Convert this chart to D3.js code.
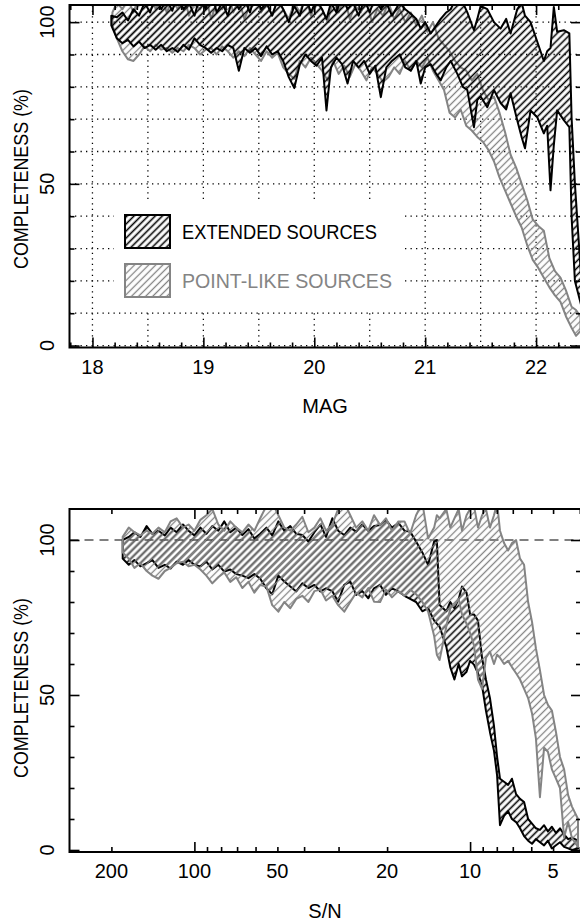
<!DOCTYPE html>
<html>
<head>
  <meta charset="utf-8">
  <title>Completeness</title>
  <script src="https://cdnjs.cloudflare.com/ajax/libs/d3/7.8.5/d3.min.js"></script>
  <style>
    body { margin: 0; background: #fff; }
    svg text { font-family: "Liberation Sans", Arial, Helvetica, sans-serif; }
  </style>
</head>
<body>
<script>
  // ---- top panel: completeness vs magnitude ----
  var magExt = [18.17,18.22,18.27,18.32,18.37,18.42,18.47,18.52,18.57,18.62,18.67,18.72,18.77,18.82,18.87,18.92,18.97,19.02,19.07,19.12,19.17,19.22,19.27,19.32,19.37,19.42,19.47,19.52,19.57,19.62,19.67,19.72,19.77,19.82,19.87,19.92,19.97,20.02,20.07,20.11,20.15,20.20,20.25,20.30,20.35,20.40,20.45,20.50,20.55,20.60,20.65,20.70,20.77,20.82,20.87,20.92,20.96,21.00,21.05,21.10,21.14,21.19,21.23,21.29,21.34,21.38,21.44,21.47,21.50,21.56,21.62,21.68,21.73,21.77,21.83,21.87,21.90,21.95,22.01,22.07,22.10,22.13,22.16,22.19,22.25,22.30,22.32,22.35,22.38,22.41];
  var extLoTop = [99,95,93.5,94.5,92.5,94,92,93,91.5,93,91,92,90.8,93,91.5,95,93,92,90.5,92,91,93,92,85,92,90.5,92,89.5,92.5,90,91,88,83,79.6,87,90,88,86.5,89,72.7,86,89,87,81,88,86,88,84,86.5,76.8,86,88,90,86,85,88,81,86,87,84,82,86,88,84,80,79,67.5,76,77,73.7,79,75,73,78,69.7,64.4,61,72.7,70.6,65.6,68,48,62,72.7,69.7,67.5,40,20,16,12];
  var extHiTop = [102,101.5,103,100.5,104,102,106,103,108,104,107,103.5,109,104,106,102,108,104,110,103,106,102,108,104,107,103,109,104,106,102,107,104,100,105,102,108,103,107,104,101,106,103,108,104,106,102,107,103,108,104,106,102,106,104,102.6,101,98,100,96.5,99,101,103,104,108,106,103,97.5,101,105,104,100,98,101,96.5,104,106,102,100,94,88,91,92,104.7,97,97.5,96.5,70.6,50,34.6,19];

  var magPt = [18.18,18.22,18.27,18.32,18.37,18.42,18.47,18.52,18.57,18.62,18.67,18.72,18.77,18.82,18.87,18.92,18.97,19.02,19.07,19.12,19.17,19.22,19.27,19.32,19.37,19.42,19.47,19.52,19.57,19.62,19.67,19.72,19.77,19.82,19.87,19.92,19.97,20.02,20.07,20.12,20.17,20.22,20.27,20.32,20.37,20.42,20.47,20.52,20.57,20.62,20.67,20.72,20.77,20.82,20.87,20.92,20.97,21.02,21.07,21.12,21.17,21.22,21.27,21.32,21.37,21.42,21.47,21.52,21.57,21.62,21.67,21.72,21.77,21.82,21.87,21.92,21.97,22.02,22.07,22.12,22.17,22.22,22.27,22.32,22.36,22.40];
  var ptLoTop = [99,95,91,88.5,88,90,92.5,91,93,91.5,92,90.5,92,91,93,92,90,91.5,92,90,92.5,91,89,91,89.5,92,90,88,91,89,90.5,86,84,82.5,88,86,89,87,85,82,88,84,86.5,83,87,85,82,86,84,81.5,83,86,84,88,85,88,86,89,85,82,79,72,70.5,73,68,66.5,64.5,63,60.5,57,52,48,44,40,36.5,31,26.5,24,21,18,15.5,13.5,9,5.5,3,4.5];
  var ptHiTop = [103,106,104,107,103,108,105,109,104,108,103,107,104,109,102,106,104,108,101,106,104,109,103,107,101,105,108,103,106,102,107,104,101,106,103,108,102,106,104,100,107,103,108,101,105,103,107,100,104,102,106,101,104,100,103,99,102,97,100,95,93,91,88,86,85,82,84,79,76,77,72,66,59,55,50,45,39,37,35.5,27,23,21,17,12,11,9];

  // ---- bottom panel: completeness vs S/N ----
  var snBins = [182,173,165,157,149,142,135,128,122,116,110,105,100,95.1,90.5,86.1,81.9,77.9,74.1,70.5,67.0,63.7,60.6,57.7,54.8,52.2,49.6,47.2,44.9,42.7,40.6,38.6,36.7,34.9,33.3,31.6,30.1,28.6,27.2,25.9,24.6,23.4,22.3,21.2,20.2,19.2,18.2,17.3,16.5,15.7,14.9,14.2,13.5,13.2,12.9,12.2,11.8,11.4,11.0,10.7,10.3,10.0,9.68,9.36,9.05,8.76,8.47,8.19,7.98,7.79,7.53,7.28,7.05,6.81,6.59,6.37,6.16,5.96,5.77,5.58,5.39,5.22,5.05,4.88,4.72,4.56,4.41,4.27,4.06];
  var extLoBot = [94,92,93.5,91.5,92.5,93.5,91,92,90.8,93,92,93.5,92,91.5,93,90.5,92,89.8,90.5,89,88.5,87.7,89,87.5,84.4,82.5,88.5,86.6,85,83.4,86,84.5,85.5,83.4,84.4,83.5,80.1,85.5,86.6,82.3,83.5,81.2,84.4,85.5,82.3,84.4,83.4,82,81,80,77,78,74,73,72,65.6,59,55,60,56,57.5,61,59.8,57,53,45,38,32,24,8,11,12.5,10,9,7,4.5,3,2,3.5,2.5,1.5,3,0.5,1.5,2.5,1,0.5,0,0.5];
  var extHiBot = [100,101,102.5,101,104.5,102,103,101.5,104,102.5,105,103,101.5,104,102,104.5,103,106,102.5,104,101.6,103.5,100.5,102,104,101.5,106,103,104.5,102,101.6,99.5,102.5,105,101,107,103,101.6,104,102.7,105,103,104.5,104.8,106.5,104,105.5,103,102.7,99.5,96,92,99.5,100,79,77,80,78,81,85,83,76,76,74,62,55,49,40,30,23,22,21,23,18,16.5,15.5,10,8.5,7,6.5,8,6,7.5,5.5,7,5,3.5,4,3];
  var ptLoBot = [96,94,91,92.5,90,88.5,87.5,90,91,92.5,93,91.5,92,90.5,88.5,86,88,89.5,86.5,88,84.5,86.5,83,85.5,85,79,76.9,80,78,81,82,80,83.5,84,80.5,82,79,76.9,80,83,81.5,84.5,80.1,80,84,81.5,83.5,82,84,82.5,80,76.9,69,63,61.3,72,78,79,81,76,73,70,66,55,52,62,64,60,63,62,60,61,59,57,55,52,49,44,36,17,33,31.7,26,23,20,4,9,3.8,1];
  var ptHiBot = [101,104,102.5,101.5,103,102,104,102.5,106,107,104,105,103,106.5,108,110,105,103,106,104,102.5,105,103,107,111,112,108,104,103,105,107.5,102.5,104,107,103,105,110,112,108,104,106,103,108,104.8,107,103,106,106,102,108,112,100.5,104,108,107,110,104,107,110,103,108,110,111,104,108,110,104,108,112,103,99,96.6,99,100,94,92,80,73.5,65,58,50,46.8,45,38,30,26,17.7,14,10];

  // ---- ticks ----
  var magLabels = [18, 19, 20, 21, 22];
  var magMinor = [17.8,18.2,18.4,18.6,18.8,19.2,19.4,19.6,19.8,20.2,20.4,20.6,20.8,21.2,21.4,21.6,21.8,22.2,22.4];
  var magGrid = [18, 18.5, 19, 19.5, 20, 20.5, 21, 21.5, 22];
  var pctLabels = [0, 50, 100];
  var pctMinor = [10, 20, 30, 40, 60, 70, 80, 90];
  var pctGrid = [0, 10, 20, 30, 40, 50, 60, 70, 80, 90, 100];
  var snLabels = [200, 100, 50, 20, 10, 5];
  var snMajor = [100, 10];
  var snMinor = [200, 90, 80, 70, 60, 50, 40, 30, 20, 9, 8, 7, 6, 5, 4];

  var GRAY = "#848484";
  var L = 69.5, R = 581;
  var svg = d3.select("body").append("svg")
    .attr("width", 580).attr("height", 921)
    .style("display", "block");

  var defs = svg.append("defs");
  function hatch(id, color, w) {
    var p = defs.append("pattern").attr("id", id)
      .attr("patternUnits", "userSpaceOnUse")
      .attr("width", 5).attr("height", 5)
      .attr("patternTransform", "rotate(45)");
    p.append("line").attr("x1", 2.5).attr("y1", -1).attr("x2", 2.5).attr("y2", 6)
      .attr("stroke", color).attr("stroke-width", w);
  }
  hatch("hatchExt", "#000", 1.6);
  hatch("hatchPt", GRAY, 1.3);

  var xMag = d3.scaleLinear().domain([17.793, 22.405]).range([L, R]);
  var yTop = d3.scaleLinear().domain([-0.6, 105.3]).range([347.5, 5]);
  var xSN = d3.scaleLog().domain([283.8, 3.96]).range([L, R]);
  var yBot = d3.scaleLinear().domain([-0.65, 110]).range([852, 509]);

  function rows(xs, lo, hi) {
    return xs.map(function (v, i) { return { x: v, lo: lo[i], hi: hi[i] }; });
  }

  function band(g, data, x, y, color, pat, sw) {
    var area = d3.area()
      .x(function (d) { return x(d.x); })
      .y0(function (d) { return y(d.lo); })
      .y1(function (d) { return y(d.hi); });
    g.append("path").datum(data)
      .attr("d", area)
      .attr("fill", "url(#" + pat + ")")
      .attr("stroke", color)
      .attr("stroke-width", sw)
      .attr("stroke-linejoin", "round");
  }

  function ticks(g, axis, tr) {
    var a = g.append("g").attr("transform", tr).call(axis);
    a.select(".domain").remove();
    a.selectAll("line").attr("stroke", "#000").attr("stroke-width", 1.6);
  }

  function frameAxes(x, y, t, b, xMajor, xMinor) {
    [[pctLabels, 10], [pctMinor, 5]].forEach(function (s) {
      ticks(svg, d3.axisLeft(y).tickValues(s[0]).tickSize(-s[1]).tickFormat(""), "translate(" + L + ",0)");
      ticks(svg, d3.axisRight(y).tickValues(s[0]).tickSize(-s[1]).tickFormat(""), "translate(" + R + ",0)");
    });
    [[xMajor, 10], [xMinor, 5]].forEach(function (s) {
      ticks(svg, d3.axisBottom(x).tickValues(s[0]).tickSize(-s[1]).tickFormat(""), "translate(0," + b + ")");
      ticks(svg, d3.axisTop(x).tickValues(s[0]).tickSize(-s[1]).tickFormat(""), "translate(0," + t + ")");
    });
    svg.append("rect").attr("x", L).attr("y", t).attr("width", R - L).attr("height", b - t)
      .attr("fill", "none").attr("stroke", "#000").attr("stroke-width", 2);

    svg.append("g").selectAll("text").data(pctLabels).enter().append("text")
      .attr("transform", function (d) { return "translate(54," + y(d) + ") rotate(-90)"; })
      .attr("text-anchor", "middle").attr("font-size", 20).text(function (d) { return d; });
  }

  function clip(id, t, b) {
    defs.append("clipPath").attr("id", id).append("rect")
      .attr("x", L).attr("y", t).attr("width", R - L).attr("height", b - t);
    return svg.append("g").attr("clip-path", "url(#" + id + ")");
  }

  function yTitle(cy) {
    svg.append("text").attr("transform", "translate(28," + cy + ") rotate(-90)")
      .attr("text-anchor", "middle").attr("font-size", 20)
      .attr("textLength", 180).attr("lengthAdjust", "spacingAndGlyphs")
      .text("COMPLETENESS (%)");
  }

  // ===== top panel =====
  var gTop = clip("clipTop", 5, 347.5);
  var grid = gTop.append("g").attr("stroke", "#000").attr("stroke-width", 1.3)
    .attr("stroke-dasharray", "1.3,4.2");
  grid.selectAll("line.v").data(magGrid).enter().append("line")
    .attr("x1", function (d) { return xMag(d); }).attr("x2", function (d) { return xMag(d); })
    .attr("y1", 347.5).attr("y2", 5);
  grid.selectAll("line.h").data(pctGrid).enter().append("line")
    .attr("x1", L).attr("x2", R)
    .attr("y1", function (d) { return yTop(d); }).attr("y2", function (d) { return yTop(d); });

  band(gTop, rows(magPt, ptLoTop, ptHiTop), xMag, yTop, GRAY, "hatchPt", 2);
  band(gTop, rows(magExt, extLoTop, extHiTop), xMag, yTop, "#000", "hatchExt", 2);

  // legend
  var leg = svg.append("g");
  leg.append("rect").attr("x", 114).attr("y", 199).attr("width", 289).attr("height", 110).attr("fill", "#fff");
  leg.append("rect").attr("x", 125).attr("y", 215).attr("width", 45).attr("height", 33)
    .attr("fill", "url(#hatchExt)").attr("stroke", "#000").attr("stroke-width", 2);
  leg.append("rect").attr("x", 125).attr("y", 264).attr("width", 45).attr("height", 33)
    .attr("fill", "url(#hatchPt)").attr("stroke", GRAY).attr("stroke-width", 2);
  leg.append("text").attr("x", 182).attr("y", 239).attr("font-size", 20)
    .attr("textLength", 195).attr("lengthAdjust", "spacingAndGlyphs").text("EXTENDED SOURCES");
  leg.append("text").attr("x", 182).attr("y", 288).attr("font-size", 20).attr("fill", GRAY)
    .attr("textLength", 210).attr("lengthAdjust", "spacingAndGlyphs").text("POINT-LIKE SOURCES");

  frameAxes(xMag, yTop, 5, 347.5, magLabels, magMinor);
  svg.append("g").selectAll("text").data(magLabels).enter().append("text")
    .attr("x", function (d) { return xMag(d); }).attr("y", 374)
    .attr("text-anchor", "middle").attr("font-size", 20).text(function (d) { return d; });
  svg.append("text").attr("x", 325).attr("y", 413).attr("text-anchor", "middle")
    .attr("font-size", 20).text("MAG");
  yTitle(179);

  // ===== bottom panel =====
  var gBot = clip("clipBot", 509, 852);
  gBot.append("line").attr("x1", L).attr("x2", R)
    .attr("y1", yBot(100)).attr("y2", yBot(100))
    .attr("stroke", "#000").attr("stroke-width", 1.2).attr("stroke-dasharray", "9,6");
  band(gBot, rows(snBins, extLoBot, extHiBot), xSN, yBot, "#000", "hatchExt", 2);
  band(gBot, rows(snBins, ptLoBot, ptHiBot), xSN, yBot, GRAY, "hatchPt", 2);

  frameAxes(xSN, yBot, 509, 852, snMajor, snMinor);
  svg.append("g").selectAll("text").data(snLabels).enter().append("text")
    .attr("x", function (d) { return xSN(d); }).attr("y", 878)
    .attr("text-anchor", "middle").attr("font-size", 20).text(function (d) { return d; });
  svg.append("text").attr("x", 325).attr("y", 918).attr("text-anchor", "middle")
    .attr("font-size", 20).text("S/N");
  yTitle(688);
</script>
</body>
</html>
